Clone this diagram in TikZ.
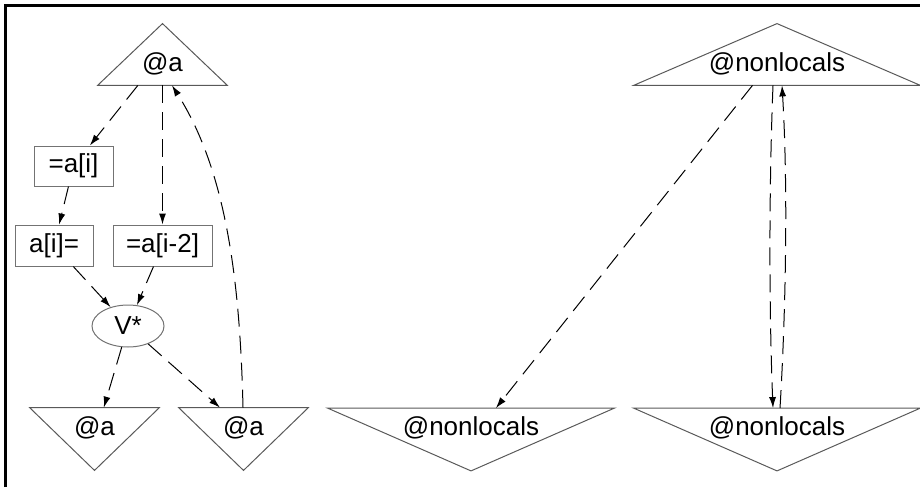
\documentclass[tikz,border=0pt]{standalone}
\usepackage{fontspec}
\setmainfont{Liberation Sans}
\usetikzlibrary{arrows.meta, positioning, shapes.geometric}

\begin{document}
\begin{tikzpicture}[x=0.5pt, y=-0.5pt, font=\fontsize{13}{15}\selectfont,
    dep/.style={line width=0.5pt, dash pattern=on 9pt off 4.5pt, -{Latex[length=5.5pt, width=3.5pt]}},
    var/.style={draw=black!55, line width=0.5pt, rectangle, inner sep=0pt, minimum height=20.5pt},
    triup/.style={inner sep=0pt, text height=23.5pt, text depth=7pt},
    tridown/.style={inner sep=0pt, text height=13.5pt, text depth=17.5pt},
    triline/.style={draw=black!65, line width=0.5pt}]
  \useasboundingbox (0,0) rectangle (920,487);
  \draw[line width=1.75pt] (5.7,487) -- (5.7,5.7) -- (920,5.7);

  % left part: @a
  \node[triup, minimum width=64.5pt] (ta) at (162.5,54.5) {@a};
  \node[var, minimum width=39.5pt, minimum height=20pt] (ia) at (73.5,166) {=a[i]};
  \node[var, minimum width=39pt] (ic) at (54,245.5) {a[i]=};
  \node[var, minimum width=49.5pt] (ib) at (162.5,245.5) {=a[i-2]};
  \node[draw=black!55, line width=0.5pt, ellipse, inner sep=0pt, minimum width=36pt, minimum height=21pt] (vs) at (128,326) {V*};
  \node[tridown, minimum width=64.5pt] (ba1) at (94.5,439) {@a};
  \node[tridown, minimum width=64.5pt] (ba2) at (243.5,439) {@a};

  % right part: @nonlocals
  \node[triup, minimum width=143pt] (tn) at (777,54.5) {@nonlocals};
  \node[tridown, minimum width=143pt] (bn1) at (471,439.5) {@nonlocals};
  \node[tridown, minimum width=143pt] (bn2) at (777,439.5) {@nonlocals};

  \foreach \t in {ta, tn}
    \draw[triline] (\t.south west) -- (\t.north) -- (\t.south east) -- cycle;
  \foreach \t in {ba1, ba2, bn1, bn2}
    \draw[triline] (\t.north west) -- (\t.south) -- (\t.north east) -- cycle;

  \draw[dep] (ta) -- (ia);
  \draw[dep] (ta) -- (ib);
  \draw[dep] (ia) -- (ic);
  \draw[dep] (ic) -- (vs);
  \draw[dep] (ib) -- (vs);
  \draw[dep] (vs) -- (ba1);
  \draw[dep] (vs) -- ([xshift=-11.75pt]ba2.north);
  \draw[dep] ([xshift=-0.25pt]ba2.north) .. controls +(-3,-128) and +(54,85) .. ([xshift=4.75pt]ta.south);

  \draw[dep] (tn) -- (bn1);
  \draw[dep] ([xshift=-2pt]tn.south) .. controls +(-4,100) and +(-4,-100) .. ([xshift=-2pt]bn2.north);
  \draw[dep] ([xshift=1.5pt]bn2.north) .. controls +(6,-100) and +(6,100) .. ([xshift=2.5pt]tn.south);
\end{tikzpicture}
\end{document}
